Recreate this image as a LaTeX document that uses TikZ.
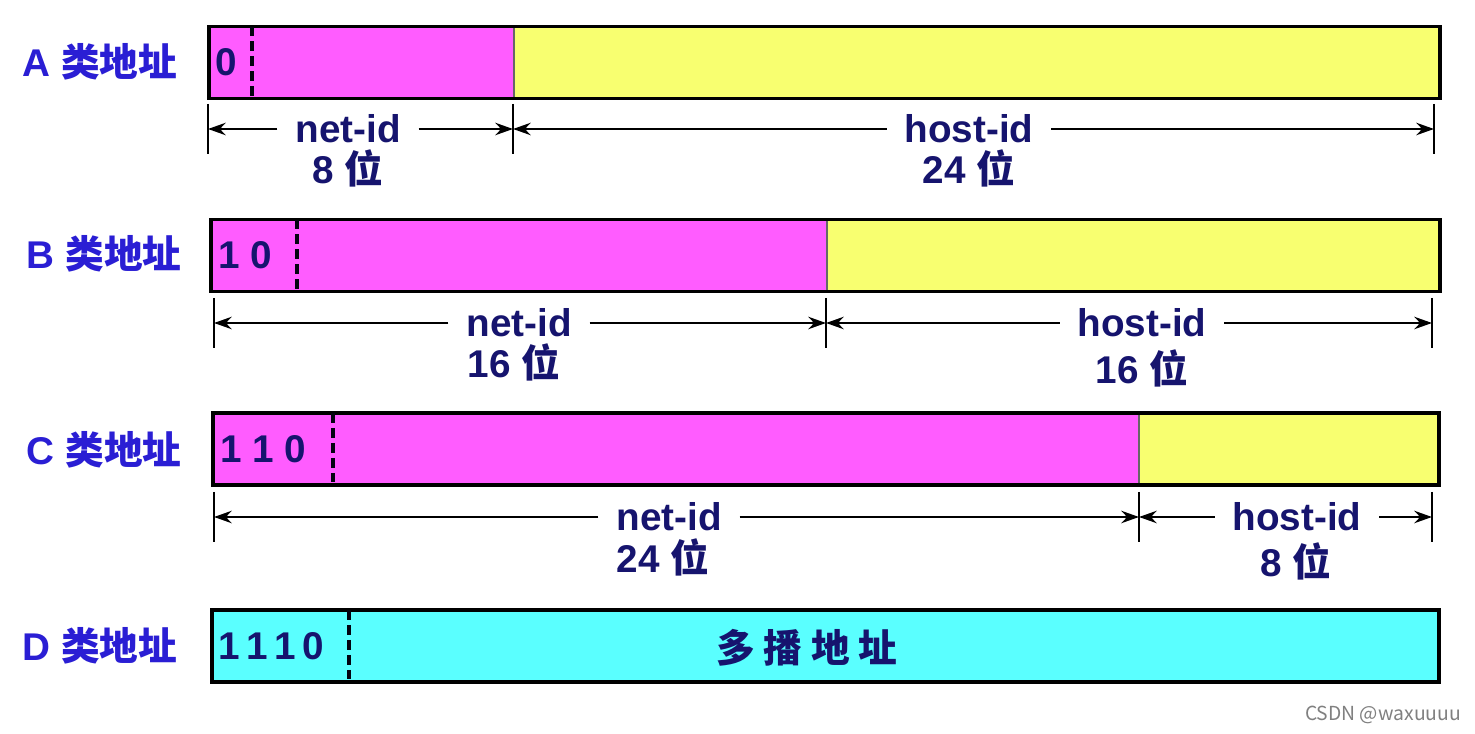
\documentclass[tikz,border=0pt]{standalone}
\usepackage{fontspec}
\setmainfont{Liberation Sans}
\newfontfamily\cjk{Noto Sans CJK SC}
\usepackage{tikz}
\usetikzlibrary{arrows.meta}
\definecolor{lblblue}{RGB}{42,30,212}
\definecolor{navy}{RGB}{22,20,110}
\definecolor{netpink}{RGB}{255,92,255}
\definecolor{hostyellow}{RGB}{248,255,112}
\definecolor{mcastcyan}{RGB}{90,255,255}
\tikzstyle{field} = [rectangle, draw=black!60, line width=0.5pt, minimum height=1.42cm, inner sep=0, anchor=west]
\tikzstyle{netbox} = [field, fill=netpink]
\tikzstyle{hostbox} = [field, fill=hostyellow]
\tikzstyle{mcastbox} = [field, fill=mcastcyan]
\tikzstyle{frame} = [draw=black, line width=2pt]
\tikzstyle{dashsep} = [draw=black!85!navy, line width=2pt, dash pattern=on 5.5pt off 3pt]
\tikzstyle{classlbl} = [font=\fontsize{22}{26}\selectfont\bfseries, text=lblblue]
\tikzstyle{idlbl} = [font=\fontsize{22}{26}\selectfont\bfseries, text=navy, inner xsep=10pt]
\tikzstyle{bitlbl} = [idlbl, anchor=west, inner sep=0]
\tikzstyle{tick} = [draw=black, line width=1.2pt]
\tikzstyle{arrow} = [line width=1.5pt, -{Stealth[length=10pt, width=7pt]}]

\begin{document}
\begin{tikzpicture}
  \useasboundingbox [fill=white] (0,0) rectangle (29.5,14.66);

  \node (aclass) [classlbl] at (2.00,13.42) {A \cjk 类地址};
  \node (anet) [netbox, minimum width=6.08cm] at (4.18,13.41) {};
  \node (ahost) [hostbox, minimum width=18.50cm] at (anet.east) {};
  \draw [frame] (anet.north west) rectangle (ahost.south east);
  \draw [dashsep] ([xshift=0.86cm]anet.north west) -- ([xshift=0.86cm]anet.south west);
  \node (abits) [bitlbl] at ([xshift=0.12cm]anet.west) {0};
  \coordinate (a0) at (4.16,12.08);
  \coordinate (a1) at (10.26,12.08);
  \coordinate (a2) at (28.68,12.08);
  \node (anetid) [idlbl] at (6.96,12.08) {net-id};
  \node (anetlen) [idlbl] at (6.96,11.30) {8 \cjk 位};
  \node (ahostid) [idlbl] at (19.38,12.08) {host-id};
  \node (ahostlen) [idlbl] at (19.38,11.30) {24 \cjk 位};
  \draw [arrow] (anetid) -- (a0);
  \draw [arrow] (anetid) -- (a1);
  \draw [arrow] (ahostid) -- (a1);
  \draw [arrow] (ahostid) -- (a2);

  \node (bclass) [classlbl] at (2.08,9.58) {B \cjk 类地址};
  \node (bnet) [netbox, minimum width=12.30cm] at (4.22,9.55) {};
  \node (bhost) [hostbox, minimum width=12.24cm] at (bnet.east) {};
  \draw [frame] (bnet.north west) rectangle (bhost.south east);
  \draw [dashsep] ([xshift=1.72cm]bnet.north west) -- ([xshift=1.72cm]bnet.south west);
  \node (bbits) [bitlbl] at ([xshift=0.14cm]bnet.west) {1 0};
  \coordinate (b0) at (4.28,8.20);
  \coordinate (b1) at (16.52,8.20);
  \coordinate (b2) at (28.64,8.20);
  \node (bnetid) [idlbl] at (10.38,8.20) {net-id};
  \node (bnetlen) [idlbl] at (10.28,7.42) {16 \cjk 位};
  \node (bhostid) [idlbl] at (22.84,8.20) {host-id};
  \node (bhostlen) [idlbl] at (22.84,7.30) {16 \cjk 位};
  \draw [arrow] (bnetid) -- (b0);
  \draw [arrow] (bnetid) -- (b1);
  \draw [arrow] (bhostid) -- (b1);
  \draw [arrow] (bhostid) -- (b2);

  \node (cclass) [classlbl] at (2.08,5.66) {C \cjk 类地址};
  \node (cnet) [netbox, minimum width=18.50cm] at (4.26,5.68) {};
  \node (chost) [hostbox, minimum width=5.98cm] at (cnet.east) {};
  \draw [frame] (cnet.north west) rectangle (chost.south east);
  \draw [dashsep] ([xshift=2.40cm]cnet.north west) -- ([xshift=2.40cm]cnet.south west);
  \node (cbits) [bitlbl] at ([xshift=0.14cm]cnet.west) {1 1 0};
  \coordinate (c0) at (4.28,4.32);
  \coordinate (c1) at (22.78,4.32);
  \coordinate (c2) at (28.64,4.32);
  \node (cnetid) [idlbl] at (13.38,4.32) {net-id};
  \node (cnetlen) [idlbl] at (13.26,3.52) {24 \cjk 位};
  \node (chostid) [idlbl] at (25.94,4.32) {host-id};
  \node (chostlen) [idlbl] at (25.92,3.44) {8 \cjk 位};
  \draw [arrow] (cnetid) -- (c0);
  \draw [arrow] (cnetid) -- (c1);
  \draw [arrow] (chostid) -- (c1);
  \draw [arrow] (chostid) -- (c2);

  \foreach \t in {a0,a1,a2,b0,b1,b2,c0,c1,c2}
    \draw [tick] ([yshift=0.5cm]\t) -- ([yshift=-0.5cm]\t);

  \node (dclass) [classlbl] at (2.00,1.74) {D \cjk 类地址};
  \node (dmcast) [mcastbox, minimum width=24.52cm] at (4.24,1.74) {};
  \draw [frame] (dmcast.north west) rectangle (dmcast.south east);
  \draw [dashsep] ([xshift=2.74cm]dmcast.north west) -- ([xshift=2.74cm]dmcast.south west);
  \node (dbits) [bitlbl] at ([xshift=0.12cm]dmcast.west) {1\,1\,1\,0};
  \node (dtext) [idlbl] at (16.14,1.70) {\cjk 多\ 播\ 地\ 址};

  \node (mark) [font=\cjk\fontsize{11}{13}\selectfont, text=black!50] at (27.66,0.36) {CSDN @waxuuuu};
\end{tikzpicture}
\end{document}
